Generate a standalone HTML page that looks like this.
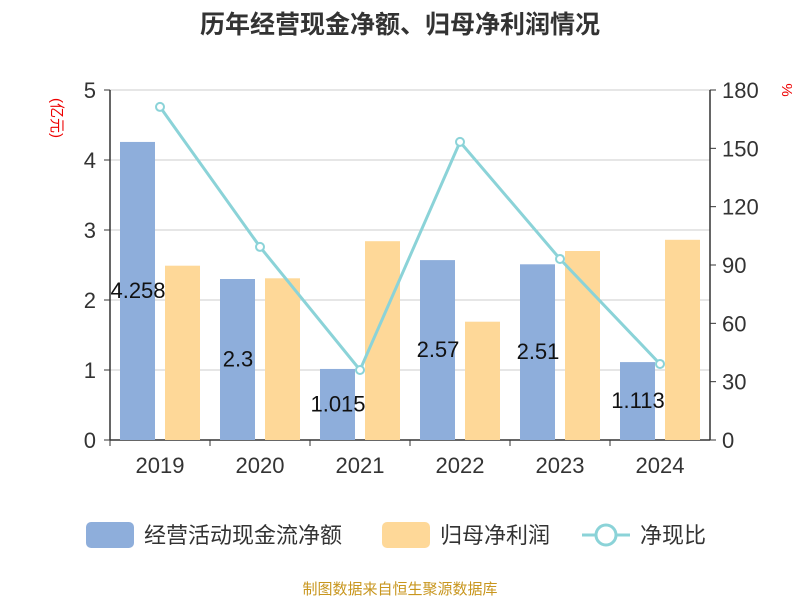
<!DOCTYPE html>
<html><head><meta charset="utf-8"><style>
body{margin:0;background:#fff;}
svg text{font-family:"Liberation Sans","Noto Sans CJK SC",sans-serif;}
</style></head><body>
<svg id="chart" width="800" height="600">
<text x="400" y="33" text-anchor="middle" font-size="25" font-weight="bold" fill="#333">历年经营现金净额、归母净利润情况</text>
<text x="0" y="0" transform="translate(52,118) rotate(90)" text-anchor="middle" font-size="15" fill="#e00">(亿元)</text>
<text x="0" y="0" transform="translate(782,90) rotate(90)" text-anchor="middle" font-size="15" fill="#e00">%</text>
<g id="grid"></g><g id="bars"></g><g id="line"></g><g id="axes"></g>
<g>
<rect x="86" y="522" width="48" height="26" rx="5" fill="#8eaedb"/>
<text x="144" y="543" font-size="22" fill="#333">经营活动现金流净额</text>
<rect x="382" y="522" width="48" height="26" rx="5" fill="#fed898"/>
<text x="440" y="543" font-size="22" fill="#333">归母净利润</text>
<line x1="582" y1="535" x2="630" y2="535" stroke="#8bd3d8" stroke-width="3"/>
<circle cx="606" cy="535" r="10" fill="#fff" stroke="#8bd3d8" stroke-width="3"/>
<text x="640" y="543" font-size="22" fill="#333">净现比</text>
</g>
<text x="400" y="594" text-anchor="middle" font-size="15" fill="#c8961e">制图数据来自恒生聚源数据库</text>
</svg>
<script>
const categories=["2019","2020","2021","2022","2023","2024"];
const cashFlow=[4.258,2.3,1.015,2.57,2.51,1.113];
const cashLabels=["4.258","2.3","1.015","2.57","2.51","1.113"];
const netProfit=[2.49,2.31,2.84,1.69,2.70,2.86];
const ratio=[171.3,99.3,36,153.3,93.1,39.1];
const leftTicks=[0,1,2,3,4,5];
const rightTicks=[0,30,60,90,120,150,180];
const NS="http://www.w3.org/2000/svg";
const X0=110,X1=710,Y0=440,Y1=90;
const band=(X1-X0)/categories.length;
const yL=v=>Y0-(v/5)*(Y0-Y1);
const yR=v=>Y0-(v/180)*(Y0-Y1);
const xC=i=>X0+band*(i+0.5);
function mk(tag,attrs,parent){const e=document.createElementNS(NS,tag);for(const k in attrs)e.setAttribute(k,attrs[k]);document.getElementById(parent).appendChild(e);return e;}
leftTicks.forEach(t=>{
 const g=mk("line",{x1:X0,x2:X1,y1:yL(t),y2:yL(t),stroke:t===0?"#333":"#ccc","stroke-width":t===0?1.5:1},"grid");
 
 
 const l=mk("text",{x:X0-14,y:yL(t)+8,"text-anchor":"end","font-size":22,fill:"#333"},"axes");l.textContent=t;
 
 
 const tk=mk("line",{x1:X0-6,x2:X0,y1:yL(t),y2:yL(t),stroke:"#333"},"axes");
 
 
});
rightTicks.forEach(t=>{
 const l=mk("text",{x:X1+12,y:yR(t)+8,"font-size":22,fill:"#333"},"axes");l.textContent=t;
 
 
 const tk=mk("line",{x1:X1,x2:X1+6,y1:yR(t),y2:yR(t),stroke:"#333"},"axes");
 
 
});
[X0,X1].forEach(x=>{const a=mk("line",{x1:x,x2:x,y1:Y1,y2:Y0,stroke:"#333","stroke-width":1.5},"axes");
 
 });
categories.forEach((c,i)=>{
 const tk=mk("line",{x1:X0+band*i,x2:X0+band*i,y1:Y0,y2:Y0+6,stroke:"#333"},"axes");
 
 
 const l=mk("text",{x:xC(i),y:Y0+33,"text-anchor":"middle","font-size":22,fill:"#333"},"axes");l.textContent=c;
 
 
 const b=mk("rect",{x:xC(i)-40,y:yL(cashFlow[i]),width:35,height:Y0-yL(cashFlow[i]),fill:"#8eaedb"},"bars");
 
 
 const p=mk("rect",{x:xC(i)+5,y:yL(netProfit[i]),width:35,height:Y0-yL(netProfit[i]),fill:"#fed898"},"bars");
 
 
 const v=mk("text",{x:xC(i)-22,y:(yL(cashFlow[i])+Y0)/2+7,"text-anchor":"middle","font-size":22,fill:"#111"},"line");v.textContent=cashLabels[i];
 
 
});
const pl=mk("polyline",{points:ratio.map((v,i)=>xC(i)+","+yR(v)).join(" "),fill:"none",stroke:"#8bd3d8","stroke-width":3},"line");


ratio.forEach((v,i)=>{const c=mk("circle",{cx:xC(i),cy:yR(v),r:4,fill:"#fff",stroke:"#8bd3d8","stroke-width":2},"line");
 
 });
</script>
</body></html>
